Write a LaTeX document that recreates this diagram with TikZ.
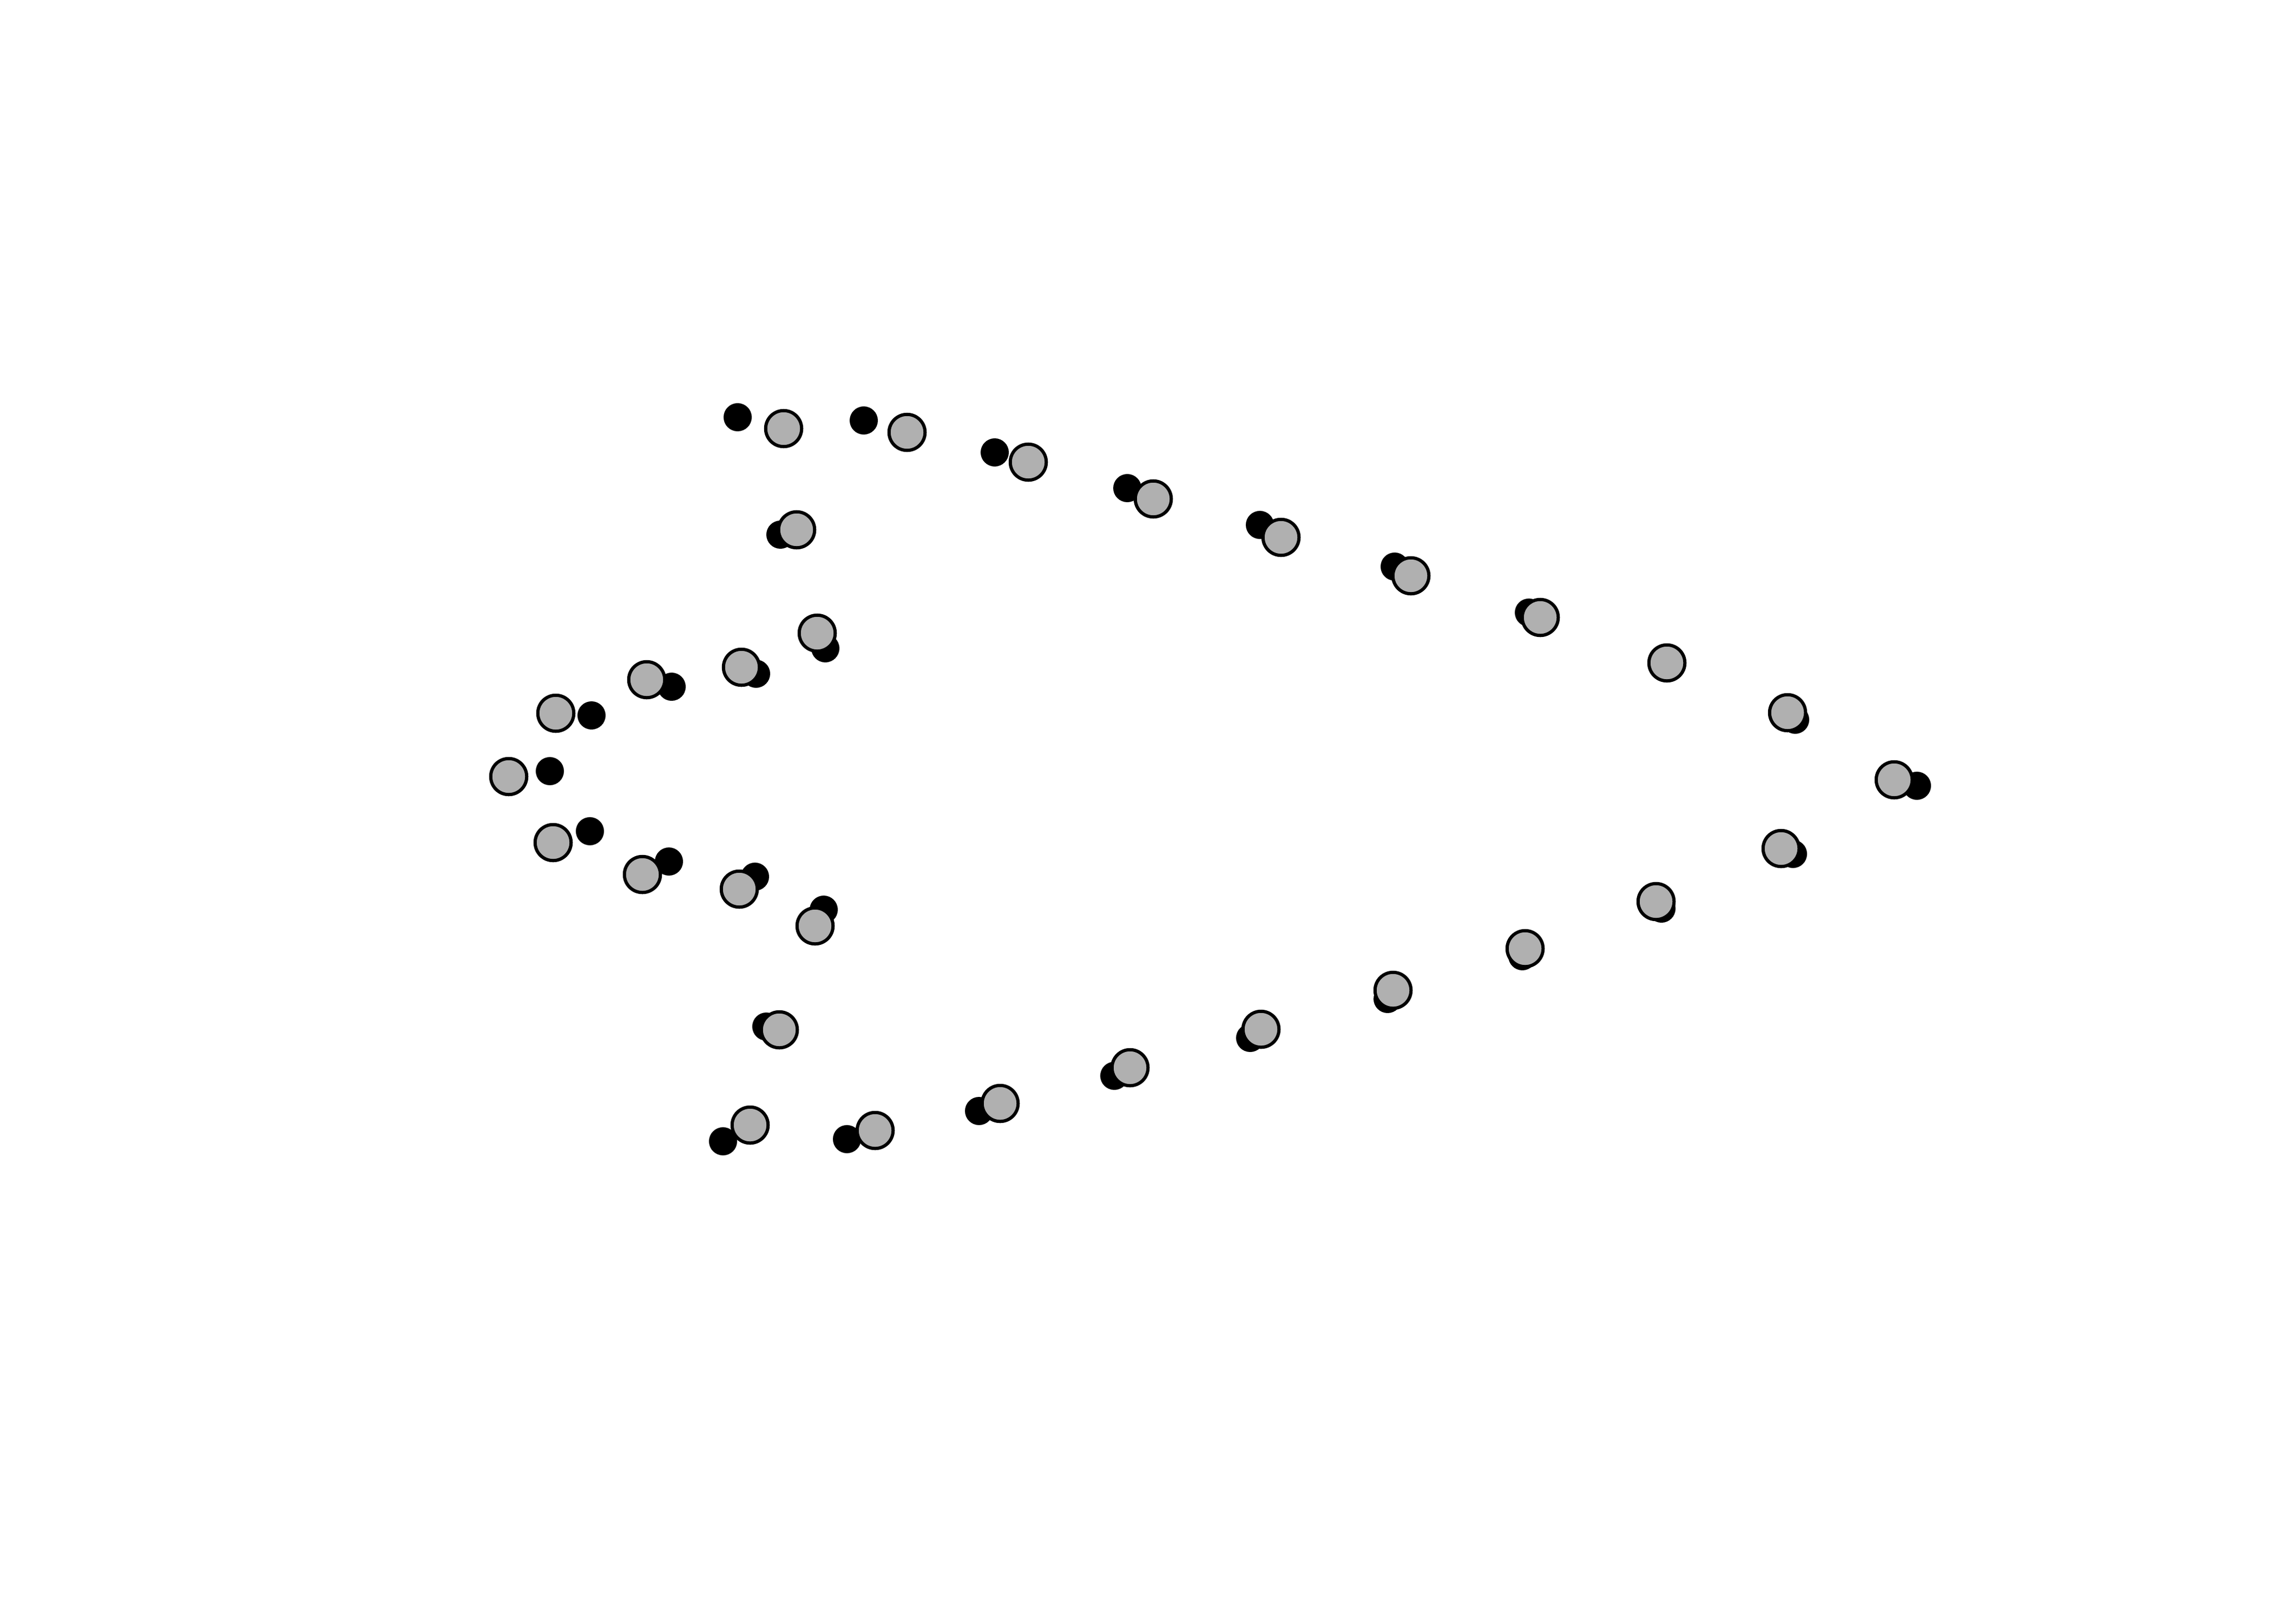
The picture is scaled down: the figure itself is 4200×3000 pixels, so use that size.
\documentclass[tikz,border=0pt]{standalone}
\definecolor{ptgray}{RGB}{176,176,176}
\tikzset{
  blackpt/.style={circle,fill=black,draw=none,inner sep=0pt,outer sep=0pt,minimum size=0.52cm},
  graypt/.style={circle,draw=black,fill=ptgray,line width=0.06cm,inner sep=0pt,outer sep=0pt,minimum size=0.665cm}
}
\begin{document}
\begin{tikzpicture}[x=0.01cm,y=-0.01cm]
\useasboundingbox (0,0) rectangle (4200,3000);
% black points
\foreach \i/\x/\y in {
 1/1363/771, 2/1596/777, 3/1838/836, 4/2083/902, 5/2328/970,
 6/2577/1047, 7/2825/1132, 8/3082/1227, 9/3317/1330, 10/3542/1452,
 11/3313/1578, 12/3070/1679, 13/2813/1767, 14/2564/1846, 15/2310/1918,
 16/2059/1988, 17/1809/2053, 18/1565/2105, 19/1336/2109, 20/1416/1897,
 21/1522/1681, 22/1395/1620, 23/1236/1592, 24/1090/1536, 25/1016/1425,
 26/1093/1322, 27/1241/1269, 28/1397/1245, 29/1525/1198, 30/1442/988}
 \node[blackpt] (b\i) at (\x,\y) {};
% gray points
\foreach \i/\x/\y in {
 1/1448/792, 2/1676/799, 3/1900/854, 4/2131/922, 5/2367/993,
 6/2607/1064, 7/2846/1141, 8/3080/1225, 9/3303/1317, 10/3500/1441,
 11/3291/1568, 12/3060/1666, 13/2818/1753, 14/2574/1830, 15/2330/1902,
 16/2088/1973, 17/1848/2039, 18/1617/2089, 19/1386/2079, 20/1440/1903,
 21/1506/1711, 22/1366/1643, 23/1187/1616, 24/1022/1557, 25/940/1435,
 26/1027/1318, 27/1195/1256, 28/1370/1233, 29/1510/1170, 30/1472/979}
 \node[graypt] (g\i) at (\x,\y) {};
\end{tikzpicture}
\end{document}
